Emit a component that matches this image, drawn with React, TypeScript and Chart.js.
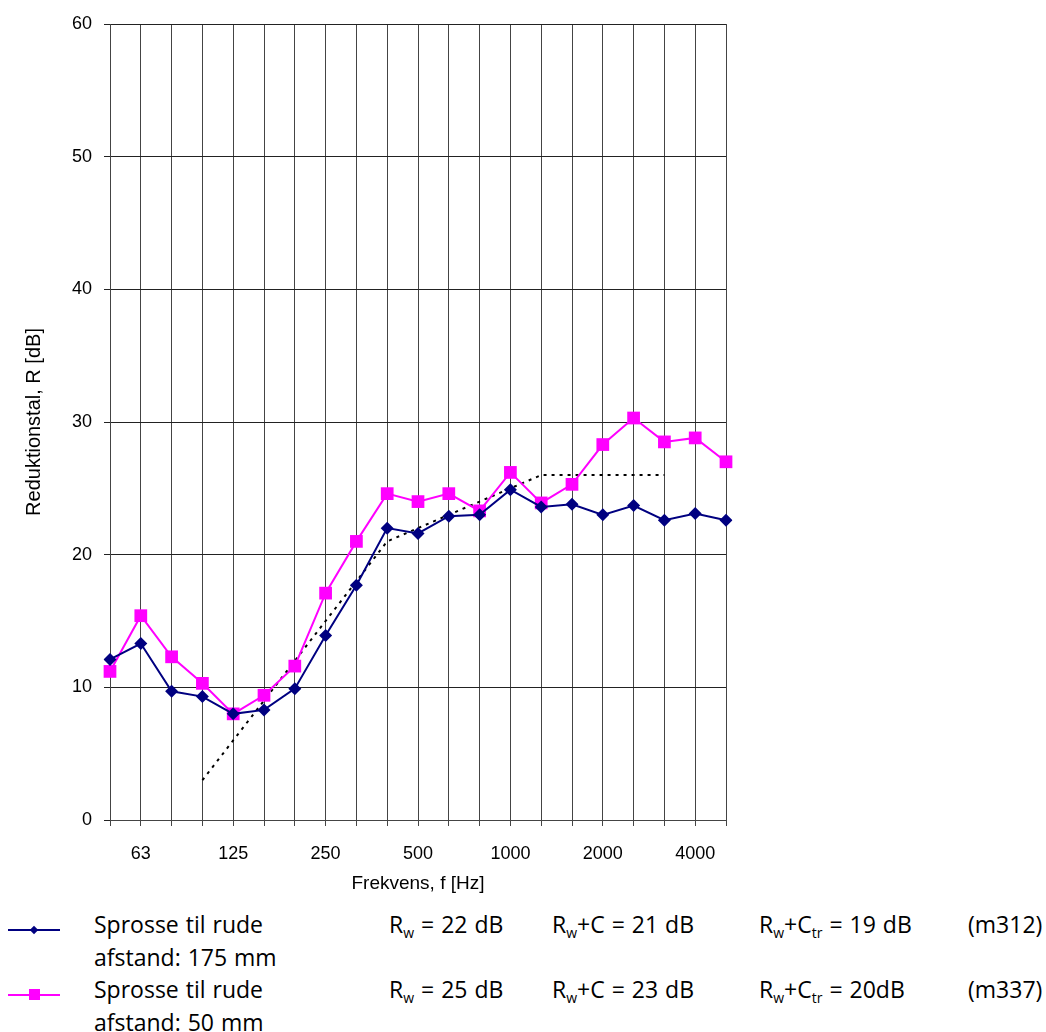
import React, { useEffect, useRef } from "react";
import { Chart, registerables } from "chart.js";

Chart.register(...registerables);

const frequencies = ["50", "63", "80", "100", "125", "160", "200", "250", "315", "400", "500", "630", "800", "1000", "1250", "1600", "2000", "2500", "3150", "4000", "5000"];
const shownTicks = ["63", "125", "250", "500", "1000", "2000", "4000"];
const series175 = [12.1, 13.3, 9.7, 9.3, 8.0, 8.3, 9.9, 13.9, 17.7, 22.0, 21.6, 22.9, 23.0, 24.9, 23.6, 23.8, 23.0, 23.7, 22.6, 23.1, 22.6];
const series50 = [11.2, 15.4, 12.3, 10.3, 8.0, 9.4, 11.6, 17.1, 21.0, 24.6, 24.0, 24.6, 23.3, 26.2, 23.9, 25.3, 28.3, 30.3, 28.5, 28.8, 27.0];
const referenceCurve = [null, null, null, 3, 6, 9, 12, 15, 18, 21, 22, 23, 24, 25, 26, 26, 26, 26, 26, null, null];
const yTicks = [0, 10, 20, 30, 40, 50, 60];

const legendRows = [
  { name: "Sprosse til rude", sub: "afstand: 175 mm", rw: "22 dB", rwc: "21 dB", rwctr: "19 dB", id: "(m312)", color: "#000080", marker: "diamond" },
  { name: "Sprosse til rude", sub: "afstand: 50 mm", rw: "25 dB", rwc: "23 dB", rwctr: "20dB", id: "(m337)", color: "#FF00FF", marker: "square" },
];

const legendFont = "'Open Sans', sans-serif";
const tickFont = "'Liberation Sans', Arial, sans-serif";
const titleFont = "'Liberation Sans', Arial, sans-serif";

export default function App() {
  const canvasRef = useRef<HTMLCanvasElement | null>(null);

  useEffect(() => {
    const canvas = canvasRef.current;
    if (!canvas) return;
    const chart = new Chart(canvas, {
      type: "line",
      data: {
        labels: frequencies,
        datasets: [
          {
            label: "175",
            data: series175,
            borderColor: "#000080",
            backgroundColor: "#000080",
            borderWidth: 2,
            pointStyle: "rectRot",
            pointRadius: 6.5,
            pointBorderWidth: 0,
            tension: 0,
          },
          {
            label: "50",
            data: series50,
            borderColor: "#FF00FF",
            backgroundColor: "#FF00FF",
            borderWidth: 2,
            pointStyle: "rect",
            pointRadius: 9,
            pointBorderWidth: 0,
            tension: 0,
          },
          {
            label: "ref",
            data: referenceCurve as any,
            borderColor: "#000000",
            borderWidth: 2,
            borderDash: [3, 5],
            pointRadius: 0,
            tension: 0,
            spanGaps: false,
          },
        ],
      },
      options: {
        animation: false,
        responsive: false,
        maintainAspectRatio: false,
        layout: { padding: { top: 24, right: 320, left: 0, bottom: 0 } },
        plugins: { legend: { display: false }, tooltip: { enabled: false } },
        scales: {
          x: {
            type: "category",
            offset: false,
            grid: { color: "#444", lineWidth: 1, tickLength: 6, drawTicks: true },
            border: { color: "#444", width: 1 },
            ticks: {
              autoSkip: false,
              maxRotation: 0,
              minRotation: 0,
              color: "#000",
              padding: 17,
              font: { family: tickFont, size: 18 },
              callback: (_v: any, i: number) => (shownTicks.includes(frequencies[i]) ? frequencies[i] : ""),
            },
            title: {
              display: true,
              text: "Frekvens, f [Hz]",
              color: "#000",
              font: { family: titleFont, size: 19 },
              padding: { top: 0, bottom: 5 },
            },
            afterFit: (scale: any) => {
              scale.height = 80;
            },
          },
          y: {
            min: 0,
            max: 60,
            afterBuildTicks: (scale: any) => {
              scale.ticks = yTicks.map((v) => ({ value: v }));
            },
            grid: { color: "#222", lineWidth: 1, tickLength: 6 },
            border: { color: "#444", width: 1 },
            ticks: {
              color: "#000",
              padding: 12,
              font: { family: tickFont, size: 18 },
            },
            title: {
              display: true,
              text: "Reduktionstal, R [dB]",
              color: "#000",
              font: { family: titleFont, size: 20 },
              padding: { top: 22, bottom: 0 },
            },
            afterFit: (scale: any) => {
              scale.width = 110;
            },
          },
        },
      },
    });
    return () => chart.destroy();
  }, []);

  const markerEl = (row: any) => (
    <div style={{ position: "absolute", left: 8, top: 8, width: 52, height: 20 }}>
      <div style={{ position: "absolute", left: 0, top: 9, width: 52, height: 2, background: row.color }} />
      {row.marker === "diamond" ? (
        <div style={{ position: "absolute", left: 23, top: 7, width: 6, height: 6, background: row.color, transform: "rotate(45deg)" }} />
      ) : (
        <div style={{ position: "absolute", left: 21, top: 4, width: 11, height: 11, background: row.color }} />
      )}
    </div>
  );

  const textStyle: React.CSSProperties = { position: "absolute", fontFamily: legendFont, fontSize: 23, color: "#000", whiteSpace: "nowrap", lineHeight: "24px", wordSpacing: 1 };
  const subStyle: React.CSSProperties = { fontSize: 14, verticalAlign: "-5px", lineHeight: 0 };

  return (
    <div style={{ position: "absolute", left: 0, top: 0, width: 1046, height: 1032, background: "#fff" }}>
      <canvas ref={canvasRef} width={1046} height={900} style={{ position: "absolute", left: 0, top: 0, width: 1046, height: 900 }} />
      {legendRows.map((row, i) => {
        const top = 912 + i * 65;
        return (
          <div key={i} style={{ position: "absolute", left: 0, top, width: 1046, height: 65 }}>
            {markerEl(row)}
            <div style={{ ...textStyle, left: 94, top: 0 }}>{row.name}</div>
            <div style={{ ...textStyle, left: 94, top: 33 }}>{row.sub}</div>
            <div style={{ ...textStyle, left: 389, top: 0 }}>
              R<span style={subStyle}>w</span> = {row.rw}
            </div>
            <div style={{ ...textStyle, left: 552, top: 0 }}>
              R<span style={subStyle}>w</span>+C = {row.rwc}
            </div>
            <div style={{ ...textStyle, left: 759, top: 0 }}>
              R<span style={subStyle}>w</span>+C<span style={subStyle}>tr</span> = {row.rwctr}
            </div>
            <div style={{ ...textStyle, left: 968, top: 0 }}>{row.id}</div>
          </div>
        );
      })}
    </div>
  );
}
